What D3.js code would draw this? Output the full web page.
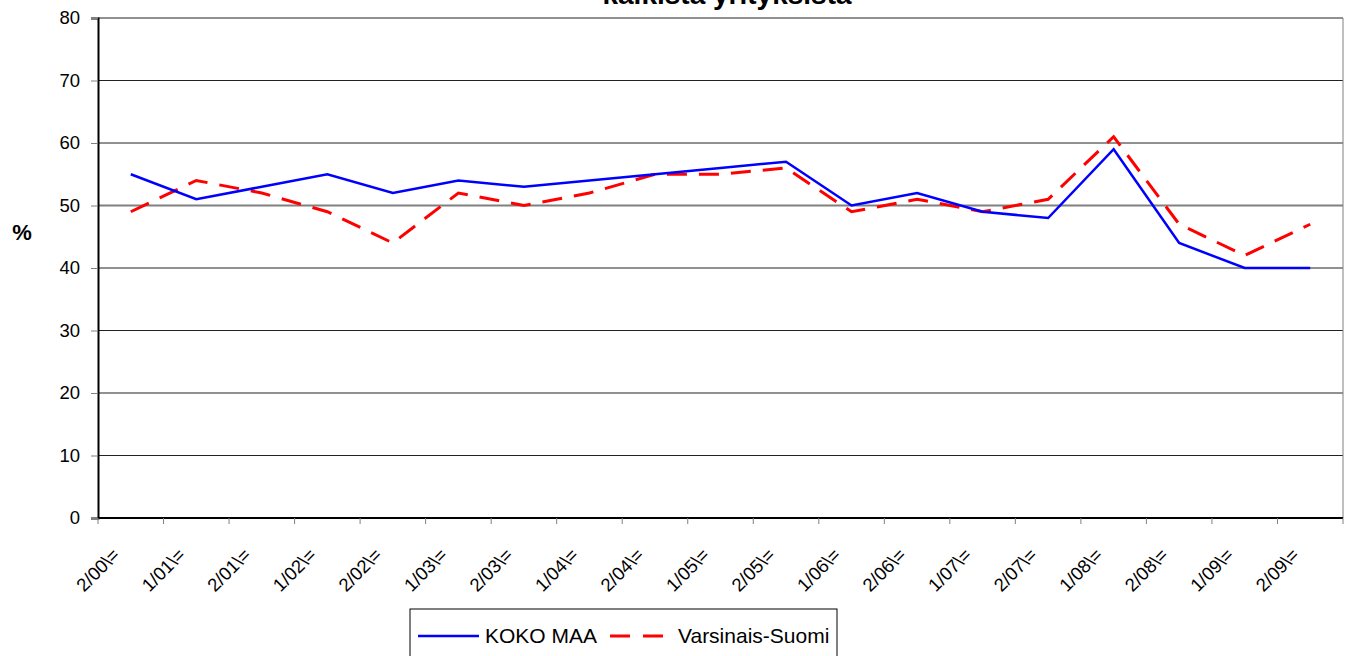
<!DOCTYPE html>
<html>
<head>
<meta charset="utf-8">
<script src="https://cdnjs.cloudflare.com/ajax/libs/d3/7.8.5/d3.min.js"></script>
<style>
  body { margin: 0; background: #fff; }
  text { font-family: "Liberation Sans", Arial, sans-serif; fill: #000; }
</style>
</head>
<body>
<svg id="chart" width="1351" height="656"></svg>
<script>
// categories (half-years) and series values
var categories = ["2/00\\=", "1/01\\=", "2/01\\=", "1/02\\=", "2/02\\=", "1/03\\=", "2/03\\=", "1/04\\=", "2/04\\=", "1/05\\=",
                  "2/05\\=", "1/06\\=", "2/06\\=", "1/07\\=", "2/07\\=", "1/08\\=", "2/08\\=", "1/09\\=", "2/09\\="];
var kokoMaa = [55, 51, 53, 55, 52, 54, 53, 54, 55, 56, 57, 50, 52, 49, 48, 59, 44, 40, 40];
var varsinaisSuomi = [49, 54, 52, 49, 44, 52, 50, 52, 55, 55, 56, 49, 51, 49, 51, 61, 47, 42, 47];
var yTicks = [0, 10, 20, 30, 40, 50, 60, 70, 80];
var seriesNames = ["KOKO MAA", "Varsinais-Suomi"];
var titleText = "kaikista yrityksistä";

var svg = d3.select("#chart");
var margin = {top: 18, right: 8, bottom: 138, left: 98};
var width = 1343 - margin.left,
    height = 518 - margin.top;

var g = svg.append("g")
  .attr("transform", "translate(" + margin.left + "," + margin.top + ")");

// scales
var x = d3.scaleBand().domain(categories).range([0, width]);
var y = d3.scaleLinear().domain([0, 80]).range([height, 0]);

// gridlines (the 50 line is drawn grey and heavier in the original)
g.append("g")
  .selectAll("line")
  .data(yTicks.filter(function(d) { return d > 0; }))
  .enter().append("line")
    .attr("x1", 0)
    .attr("x2", width)
    .attr("y1", function(d) { return y(d); })
    .attr("y2", function(d) { return y(d); })
    .attr("stroke", function(d) { return d == 50 ? "#808080" : "#222"; })
    .attr("stroke-width", function(d) { return d == 50 ? 2 : 1; });

// right border of the plot area
g.append("line")
  .attr("x1", width).attr("x2", width)
  .attr("y1", 0).attr("y2", height)
  .attr("stroke", "#808080");

// y axis
var yAxis = g.append("g")
  .call(d3.axisLeft(y).tickValues(yTicks).tickSize(7).tickPadding(11));
yAxis.select(".domain").attr("stroke", "#000").attr("stroke-width", 2);
yAxis.selectAll(".tick line").attr("stroke", "#808080");
yAxis.selectAll("text")
  .style("font-size", "18.5px")
  .style("font-family", "Liberation Sans, Arial, sans-serif");

// x axis, ticks at band boundaries
var xAxis = g.append("g")
  .attr("transform", "translate(0," + height + ")");
xAxis.append("line")
  .attr("x1", 0).attr("x2", width)
  .attr("stroke", "#000").attr("stroke-width", 2);
xAxis.selectAll("line.tk")
  .data(categories.concat(["end"]))
  .enter().append("line")
    .attr("class", "tk")
    .attr("x1", function(d, i) { return i * x.bandwidth(); })
    .attr("x2", function(d, i) { return i * x.bandwidth(); })
    .attr("y1", 0).attr("y2", 6)
    .attr("stroke", "#808080");
xAxis.selectAll("text")
  .data(categories)
  .enter().append("text")
    .attr("transform", function(d) {
      return "translate(" + (x(d) + x.bandwidth() / 2 - 10) + ",38) rotate(-45)";
    })
    .attr("text-anchor", "end")
    .style("font-size", "18.5px")
    .text(function(d) { return d; });

// lines
var line = d3.line()
  .x(function(d, i) { return x(categories[i]) + x.bandwidth() / 2; })
  .y(function(d) { return y(d); });

g.append("path")
  .datum(varsinaisSuomi)
  .attr("fill", "none")
  .attr("stroke", "#ff0000")
  .attr("stroke-width", 3)
  .attr("stroke-dasharray", "20,12")
  .attr("d", line);

g.append("path")
  .datum(kokoMaa)
  .attr("fill", "none")
  .attr("stroke", "#0000ff")
  .attr("stroke-width", 2.5)
  .attr("d", line);

// title (its upper part is cut off in the picture)
svg.append("text")
  .attr("x", 727)
  .attr("y", 4)
  .attr("text-anchor", "middle")
  .style("font-size", "28px")
  .style("font-weight", "bold")
  .text(titleText);

// y label
svg.append("text")
  .attr("x", 22)
  .attr("y", 240)
  .attr("text-anchor", "middle")
  .style("font-size", "22px")
  .style("font-weight", "bold")
  .text("%");

// legend
var legend = svg.append("g").attr("transform", "translate(410,609)");
legend.append("rect")
  .attr("width", 427).attr("height", 60)
  .attr("fill", "#fff").attr("stroke", "#000");
legend.append("line")
  .attr("x1", 8).attr("x2", 69).attr("y1", 27).attr("y2", 27)
  .attr("stroke", "#0000ff").attr("stroke-width", 2.5);
legend.append("text")
  .attr("x", 75).attr("y", 34)
  .style("font-size", "21px")
  .text(seriesNames[0]);
legend.append("line")
  .attr("x1", 200).attr("x2", 253).attr("y1", 27).attr("y2", 27)
  .attr("stroke", "#ff0000").attr("stroke-width", 3)
  .attr("stroke-dasharray", "20,13");
legend.append("text")
  .attr("x", 268).attr("y", 34)
  .style("font-size", "21px")
  .text(seriesNames[1]);
</script>
</body>
</html>
